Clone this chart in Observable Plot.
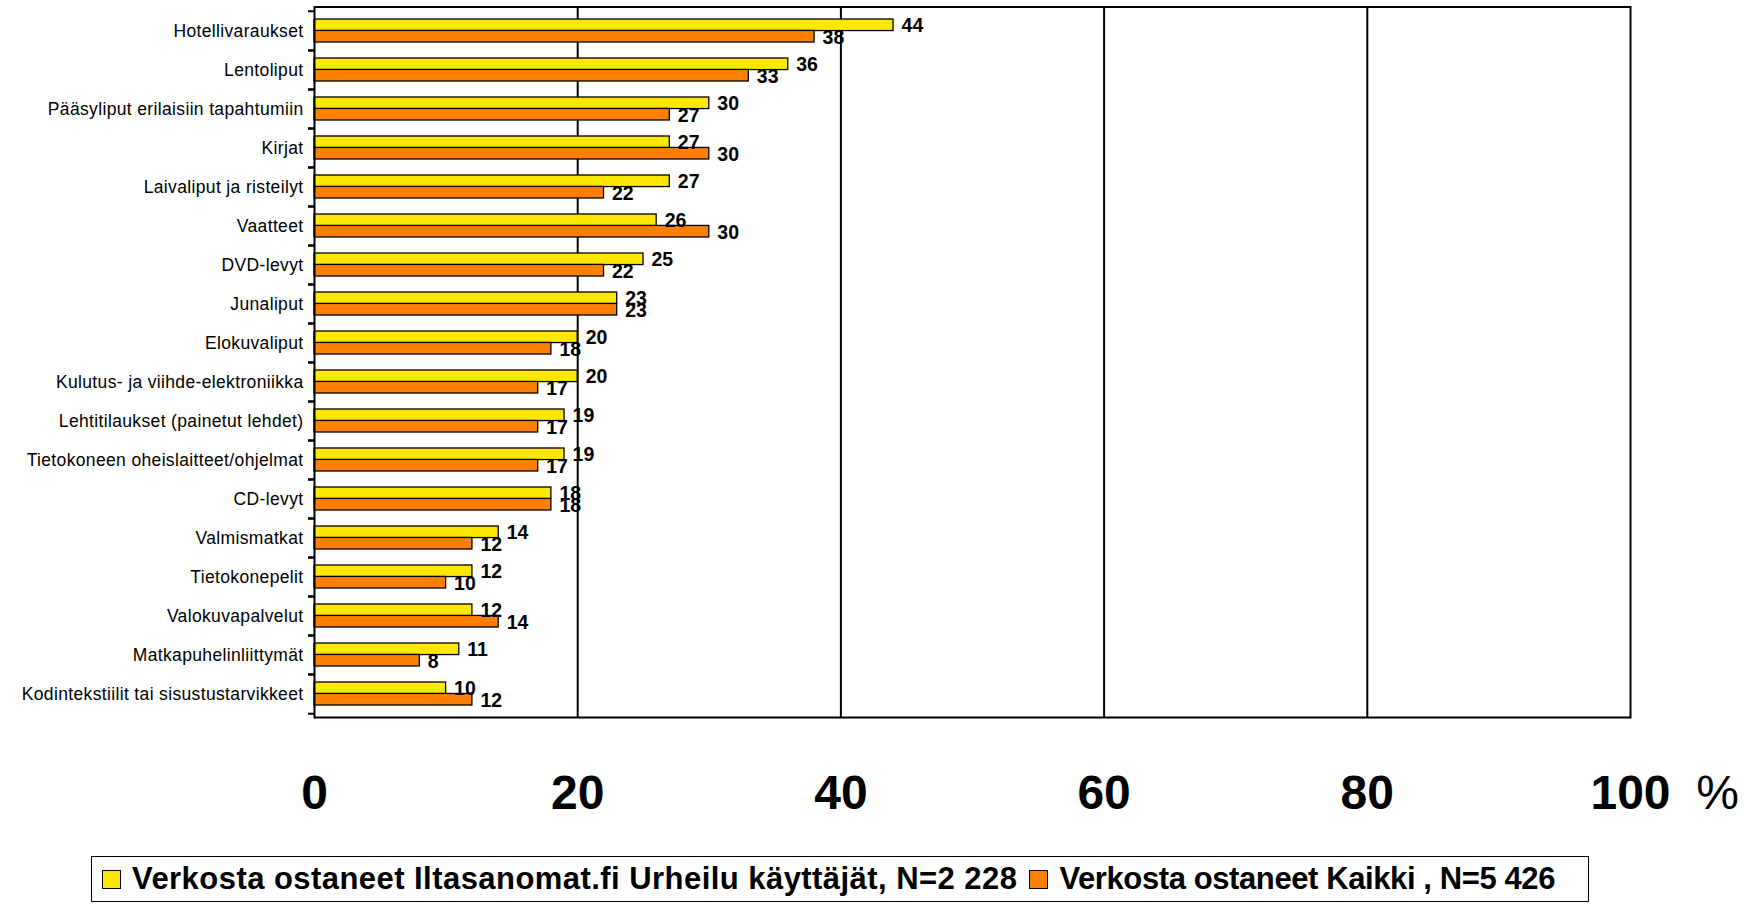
<!DOCTYPE html>
<html>
<head>
<meta charset="utf-8">
<script src="https://cdn.jsdelivr.net/npm/d3@7"></script>
<script src="https://cdn.jsdelivr.net/npm/@observablehq/plot@0.6"></script>
<style>
  html, body { margin: 0; padding: 0; background: #fff; }
  body { width: 1754px; height: 906px; position: relative; overflow: hidden; font-family: "Liberation Sans", Arial, sans-serif; }
  #chart { position: absolute; left: 0; top: 0; }
  #legend { position: absolute; left: 91px; top: 856px; width: 1498px; height: 46px; border: 1.5px solid #000; box-sizing: border-box; display: flex; align-items: center; padding-left: 10px; font-weight: bold; font-size: 31px; color: #000; white-space: nowrap; }
  .sw { width: 17px; height: 17px; border: 1.3px solid #000; margin-right: 11px; flex: none; }
  .item { display: flex; align-items: center; margin-right: 12px; }
</style>
</head>
<body>
<div id="chart"></div>
<div id="legend"></div>
<script>
const categories = [
  "Hotellivaraukset",
  "Lentoliput",
  "Pääsyliput erilaisiin tapahtumiin",
  "Kirjat",
  "Laivaliput ja risteilyt",
  "Vaatteet",
  "DVD-levyt",
  "Junaliput",
  "Elokuvaliput",
  "Kulutus- ja viihde-elektroniikka",
  "Lehtitilaukset (painetut lehdet)",
  "Tietokoneen oheislaitteet/ohjelmat",
  "CD-levyt",
  "Valmismatkat",
  "Tietokonepelit",
  "Valokuvapalvelut",
  "Matkapuhelinliittymät",
  "Kodintekstiilit tai sisustustarvikkeet"
];
const urheilu = [44, 36, 30, 27, 27, 26, 25, 23, 20, 20, 19, 19, 18, 14, 12, 12, 11, 10];
const kaikki  = [38, 33, 27, 30, 22, 30, 22, 23, 18, 17, 17, 17, 18, 12, 10, 14, 8, 12];
const seriesNames = [
  "Verkosta ostaneet Iltasanomat.fi Urheilu käyttäjät, N=2 228",
  "Verkosta ostaneet Kaikki , N=5 426"
];
const xTicks = [0, 20, 40, 60, 80, 100];
const gridTicks = [20, 40, 60, 80];
const colors = ["#FFE800", "#FF8000"];

const rows1 = categories.map((c, i) => ({category: c, value: urheilu[i]}));
const rows2 = categories.map((c, i) => ({category: c, value: kaikki[i]}));

const W = 1754, H = 840;
const mT = 6.5, mB = 123, mL = 314, mR = 124;
const pInner = 0.42, pOuter = 0.21;
const step = (H - mT - mB) / (categories.length - pInner + 2 * pOuter);
const bw = step * (1 - pInner);
const half = bw / 2;

const plot = Plot.plot({
  width: W,
  height: H,
  marginTop: mT,
  marginBottom: mB,
  marginLeft: mL,
  marginRight: mR,
  style: {fontFamily: "'Liberation Sans', Arial, sans-serif", color: "#000", background: "#fff"},
  x: {domain: [0, 100]},
  y: {domain: categories, paddingInner: pInner, paddingOuter: pOuter},
  marks: [
    Plot.ruleX(gridTicks, {stroke: "#000", strokeWidth: 2}),
    Plot.barX(rows1, {y: "category", x: "value", fill: colors[0], stroke: "#000", strokeWidth: 1.3, insetBottom: half}),
    Plot.barX(rows2, {y: "category", x: "value", fill: colors[1], stroke: "#000", strokeWidth: 1.3, insetTop: half}),
    Plot.frame({stroke: "#000", strokeWidth: 2}),
    Plot.text(rows1, {y: "category", x: "value", text: d => String(d.value), textAnchor: "start", dx: 8, dy: -half / 2, fontSize: 19.5, fontWeight: "bold", fill: "#000"}),
    Plot.text(rows2, {y: "category", x: "value", text: d => String(d.value), textAnchor: "start", dx: 8, dy: half / 2 + 1, fontSize: 19.5, fontWeight: "bold", fill: "#000"}),
    Plot.axisY({tickSize: 0, tickPadding: 11, fontSize: 17.5, label: null, fill: "#000"}),
    Plot.axisY({tickSize: 6, tickFormat: () => "", label: null, dy: -step / 2, stroke: "#000", strokeWidth: 2}),
    Plot.axisY({tickSize: 6, tickFormat: () => "", label: null, dy: step / 2, stroke: "#000", strokeWidth: 2}),
    Plot.axisX({ticks: xTicks, tickSize: 0, tickPadding: 57, fontSize: 48, fontWeight: "bold", label: null, fill: "#000"}),
    Plot.text(["%"], {frameAnchor: "bottom-right", dx: 87, dy: 57, lineAnchor: "top", textAnchor: "middle", fontSize: 48, fill: "#000"})
  ]
});
document.getElementById("chart").appendChild(plot);
plot.querySelectorAll('g[aria-label="y-axis tick label"] text').forEach(t => t.setAttribute("letter-spacing", "0.35"));

const legend = document.getElementById("legend");
const spacing = ["0.45px", "-0.4px"];
seriesNames.forEach((name, i) => {
  const item = document.createElement("div");
  item.className = "item";
  const sw = document.createElement("div");
  sw.className = "sw";
  sw.style.background = colors[i];
  const label = document.createElement("span");
  label.textContent = name;
  label.style.letterSpacing = spacing[i];
  item.appendChild(sw);
  item.appendChild(label);
  legend.appendChild(item);
});
</script>
</body>
</html>
